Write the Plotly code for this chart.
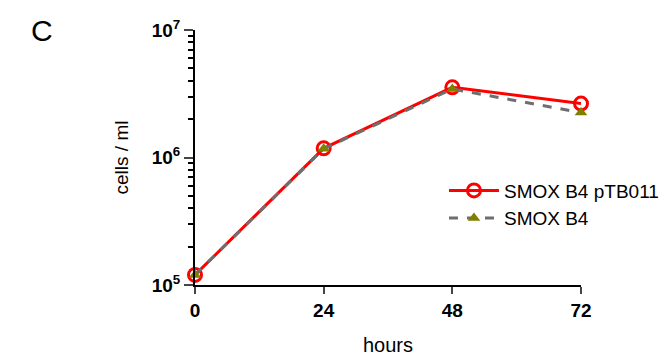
import plotly.graph_objects as go

hours = [0, 24, 48, 72]
smox_ptb011 = [1.2e5, 1.18e6, 3.55e6, 2.65e6]
smox_b4 = [1.2e5, 1.17e6, 3.45e6, 2.25e6]
x_ticks = [0, 24, 48, 72]
y_tickvals = [1e5, 1e6, 1e7]
y_ticktext = ["10<sup>5</sup>", "10<sup>6</sup>", "10<sup>7</sup>"]
y_minor = [m * 10 ** k for k in (5, 6) for m in range(2, 10)]

fig = go.Figure()
fig.add_trace(go.Scatter(
    x=hours, y=smox_ptb011, name="SMOX B4 pTB011", mode="lines+markers",
    line=dict(color="#ff0000", width=3),
    marker=dict(symbol="circle-open", size=13, color="#ff0000", line=dict(width=3, color="#ff0000")),
    cliponaxis=False,
))
fig.add_trace(go.Scatter(
    x=hours, y=smox_b4, name="SMOX B4", mode="lines+markers",
    line=dict(color="#6e6e6e", width=3, dash="dash"),
    marker=dict(symbol="triangle-up", size=11, color="#7f7f00"),
    cliponaxis=False,
))

font_family = "Liberation Sans, Arial, sans-serif"
fig.update_layout(
    width=672, height=363,
    margin=dict(l=195, r=91, t=30, b=78, autoexpand=False),
    paper_bgcolor="white", plot_bgcolor="white",
    font=dict(family=font_family, color="black", size=19),
    showlegend=True,
    legend=dict(x=0.645, y=0.445, xanchor="left", yanchor="top",
                font=dict(size=19, family=font_family), bgcolor="rgba(0,0,0,0)",
                tracegroupgap=0, itemwidth=50),
    xaxis=dict(
        range=[0, 72], tickvals=x_ticks, ticks="outside", ticklen=7, tickwidth=2,
        showline=True, linecolor="black", linewidth=2, showgrid=False, zeroline=False,
        tickfont=dict(size=19, family=font_family, weight="bold"), automargin=False,
        title=dict(text="hours", standoff=18, font=dict(size=20)),
    ),
    yaxis=dict(
        type="log", range=[5, 7], tickvals=y_tickvals, ticktext=y_ticktext,
        ticks="outside", ticklen=9, tickwidth=2, automargin=False,
        showline=True, linecolor="black", linewidth=2, showgrid=False, zeroline=False,
        tickfont=dict(size=19, family=font_family, weight="bold"),
        title=dict(text="cells / ml", standoff=18, font=dict(size=19)),
        minor=dict(tickvals=y_minor, ticks="outside", ticklen=5, tickwidth=2,
                   tickcolor="black", showgrid=False),
    ),
    annotations=[
        dict(text="C", x=-0.43, y=1.0, xref="paper", yref="paper", showarrow=False,
             font=dict(size=30), xanchor="left", yanchor="middle"),
        dict(text="hours", x=0.5, y=1.1, xref="paper", yref="paper", showarrow=False,
             font=dict(size=20), xanchor="center", yanchor="bottom"),
    ],
)
fig.write_html("out.html")
